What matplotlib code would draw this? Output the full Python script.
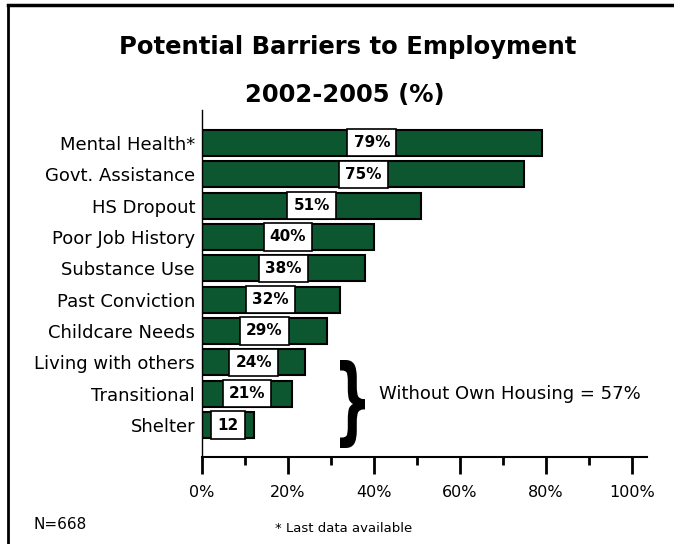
import matplotlib.pyplot as plt
from matplotlib.lines import Line2D
from matplotlib.patches import PathPatch
from matplotlib.textpath import TextPath
from matplotlib.font_manager import FontProperties
from matplotlib.transforms import Affine2D, IdentityTransform
from matplotlib.ticker import MultipleLocator, FuncFormatter

categories = ["Mental Health*", "Govt. Assistance", "HS Dropout", "Poor Job History",
              "Substance Use", "Past Conviction", "Childcare Needs",
              "Living with others", "Transitional", "Shelter"]
values = [79, 75, 51, 40, 38, 32, 29, 24, 21, 12]
labels = ["79%", "75%", "51%", "40%", "38%", "32%", "29%", "24%", "21%", "12"]

fig = plt.figure(figsize=(6.74, 5.44), dpi=100)
ax = fig.add_axes([0.2997, 0.1599, 0.660, 0.638])

pos = list(range(len(categories)))
ax.barh(pos, values, height=0.83, color="#0c5630", edgecolor="black", linewidth=1.5)

for y, v, lab in zip(pos, values, labels):
    ax.text(v / 2, y, lab, ha="center", va="center", fontsize=11, fontweight="bold",
            bbox=dict(boxstyle="square,pad=0.4", facecolor="white",
                      edgecolor="black", linewidth=1.2))

ax.set_xlim(0, 103.5)
ax.set_ylim(len(categories) - 1 + 1.02, -1.05)
ax.set_yticks(pos)
ax.set_yticklabels(categories, fontsize=13)
ax.tick_params(axis="y", length=0, pad=5)

ax.xaxis.set_major_locator(MultipleLocator(20))
ax.xaxis.set_minor_locator(MultipleLocator(10))
ax.xaxis.set_major_formatter(FuncFormatter(lambda x, p: f"{x:.0f}%" if x <= 100 else ""))
ax.tick_params(axis="x", which="major", length=12, width=2, labelsize=11.5, pad=8)
ax.tick_params(axis="x", which="minor", length=6, width=2)

for s in ["top", "right"]:
    ax.spines[s].set_visible(False)
ax.spines["bottom"].set_linewidth(1.5)
ax.spines["left"].set_linewidth(1.0)

# brace annotation: a "}" glyph stretched into a box (pixel coords)
brace = TextPath((0, 0), "}", size=100, prop=FontProperties(family="DejaVu Sans", weight="bold"))
ext = brace.get_extents()
bx0, by0, bw, bh = 340, 96, 25, 88
tr = (Affine2D().translate(-ext.x0, -ext.y0)
      .scale(bw / ext.width, bh / ext.height)
      .translate(bx0, by0))
fig.add_artist(PathPatch(brace, facecolor="black", edgecolor="none",
                         transform=tr + IdentityTransform()))
ax.text(41.2, 8, "Without Own Housing = 57%", ha="left", va="center", fontsize=13)

fig.text(0.516, 0.913, "Potential Barriers to Employment", ha="center", va="center",
         fontsize=17.5, fontweight="bold")
fig.text(0.512, 0.825, "2002-2005 (%)", ha="center", va="center",
         fontsize=17.5, fontweight="bold")
fig.text(0.049, 0.035, "N=668", ha="left", va="center", fontsize=11)
fig.text(0.408, 0.029, "* Last data available", ha="left", va="center", fontsize=9.5)

# frame lines (top and left)
fig.add_artist(Line2D([8 / 674, 1], [1 - 5 / 544, 1 - 5 / 544], color="black",
                      linewidth=2.5, transform=fig.transFigure))
fig.add_artist(Line2D([8 / 674, 8 / 674], [0, 1 - 5 / 544], color="black",
                      linewidth=2, transform=fig.transFigure))

fig.savefig("out.png", dpi=100)
